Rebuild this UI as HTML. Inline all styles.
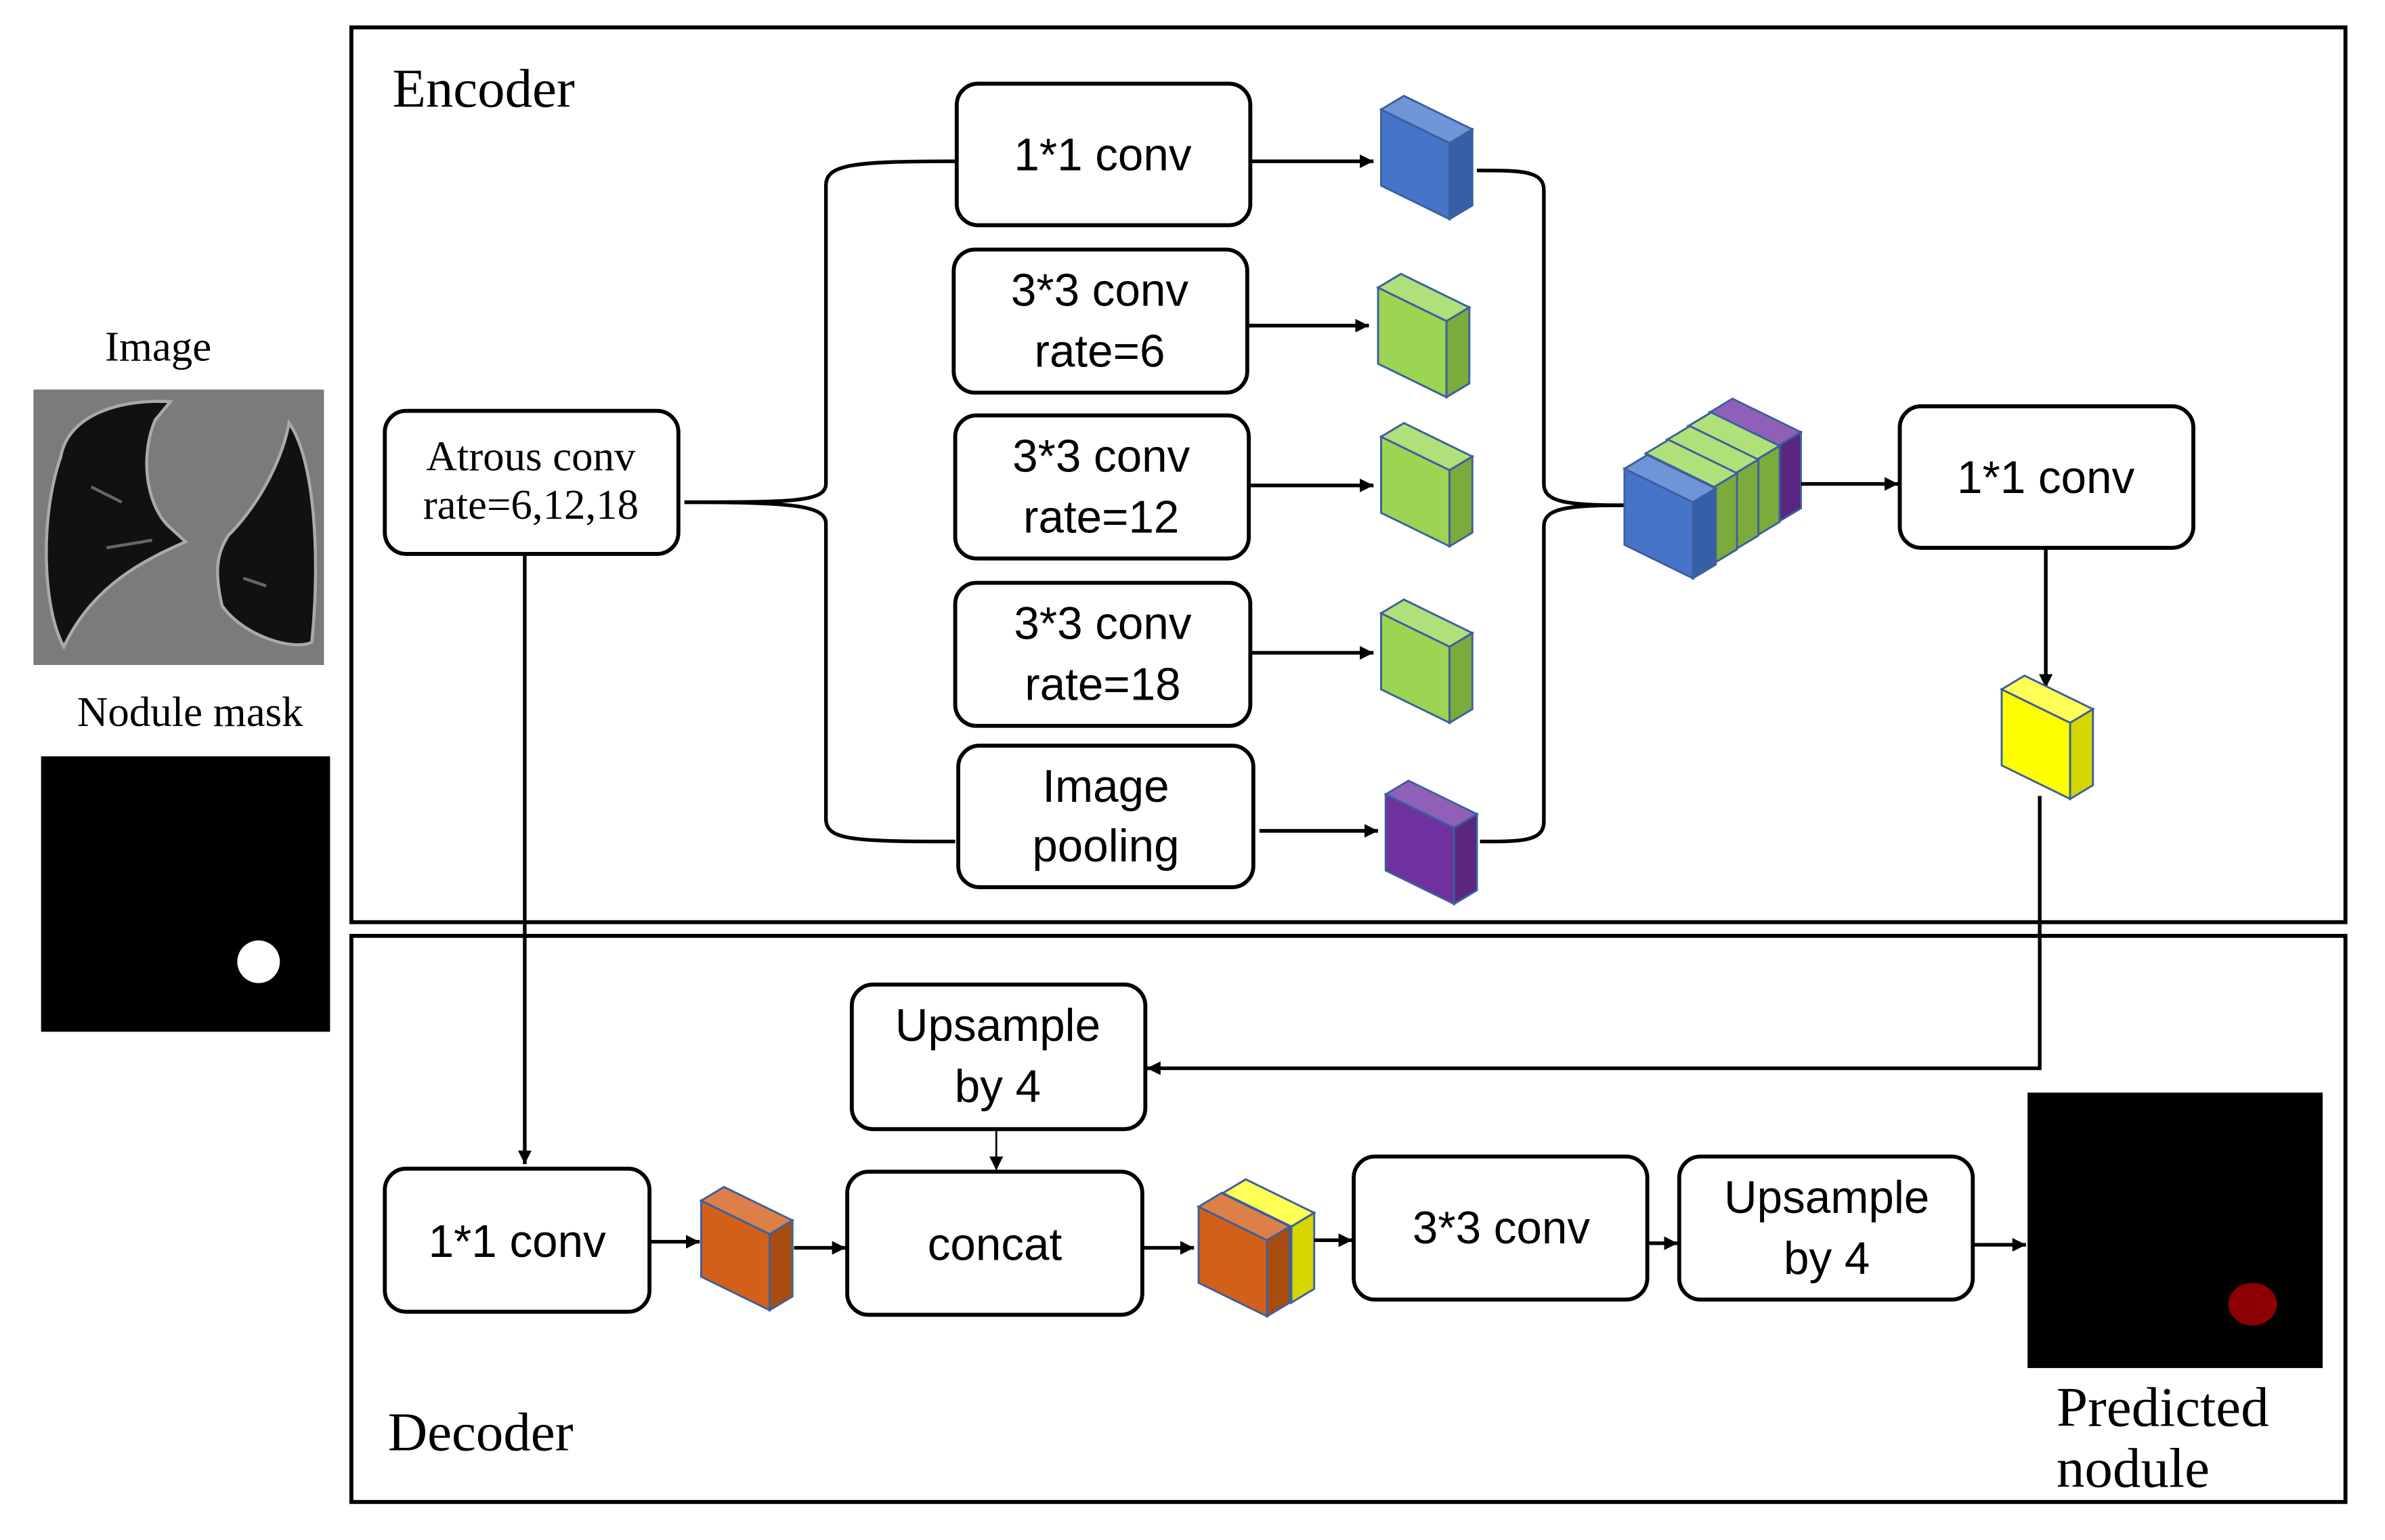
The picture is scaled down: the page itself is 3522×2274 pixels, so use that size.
<!DOCTYPE html>
<html><head><meta charset="utf-8">
<style>
html,body{margin:0;padding:0;background:#fff;}
svg{display:block;}
.bx{fill:#fff;stroke:#000;stroke-width:2.6;}
.ln{fill:none;stroke:#000;stroke-width:2.4;}
.sans{font-family:"Liberation Sans",sans-serif;font-size:30px;fill:#000;text-anchor:middle;}
.serif{font-family:"Liberation Serif",serif;fill:#000;}
.cf{fill:var(--a);stroke:#3d5f9e;stroke-width:1.3;}
.ct{fill:var(--b);stroke:#3d5f9e;stroke-width:1.3;}
.cs{fill:var(--c);stroke:#3d5f9e;stroke-width:1.3;}
.blue{--a:#4674c8;--b:#6f95d8;--c:#3560a8;}
.green{--a:#9bd552;--b:#b0e07a;--c:#7aab3c;}
.purple{--a:#7030a0;--b:#9060b8;--c:#5a2680;}
.yellow{--a:#ffff00;--b:#ffff55;--c:#d6d600;}
.orange{--a:#d2601a;--b:#dc8048;--c:#a84c10;}
</style></head>
<body>
<svg width="3522" height="2274" viewBox="0 0 1568 1012" preserveAspectRatio="none" xmlns="http://www.w3.org/2000/svg">
<defs>
<symbol id="cube" overflow="visible">
<polygon class="cf" points="0,9 45,31 45,81 0,59"/>
<polygon class="ct" points="0,9 15,0 60,22 45,31"/>
<polygon class="cs" points="45,31 60,22 60,72 45,81"/>
</symbol>
<marker id="ar" viewBox="0 0 10 10" refX="10" refY="5" markerWidth="9" markerHeight="9" orient="auto" markerUnits="userSpaceOnUse">
<path d="M0,0 L10,5 L0,10Z" fill="#000"/></marker>
</defs>
<rect width="1568" height="1012" fill="#fff"/>

<!-- left images -->
<text class="serif" x="104" y="237" font-size="28" text-anchor="middle">Image</text>
<rect x="22" y="256" width="191" height="181" fill="#7b7b7b"/>
<path d="M40,300 C45,272 80,262 112,264 L102,276 C92,300 96,330 110,345 L122,356 C100,366 62,382 42,425 C28,400 26,340 40,300Z" fill="#111" stroke="#aaa" stroke-width="2"/>
<path d="M150,352 C172,330 186,300 190,278 C206,300 211,362 205,422 C193,428 160,418 146,398 C140,372 144,362 150,352Z" fill="#111" stroke="#aaa" stroke-width="2"/>
<path d="M70,360 L100,355 M60,320 L80,330 M160,380 L175,385" stroke="#666" stroke-width="2"/>
<text class="serif" x="125" y="477" font-size="28" text-anchor="middle">Nodule mask</text>
<rect x="27" y="497" width="190" height="181" fill="#000"/>
<circle cx="170" cy="632" r="14" fill="#fff"/>

<!-- frames -->
<rect x="231" y="18" width="1311" height="588" fill="none" stroke="#000" stroke-width="2.6"/>
<rect x="231" y="615" width="1311" height="372" fill="none" stroke="#000" stroke-width="2.6"/>
<text class="serif" x="258" y="70" font-size="36">Encoder</text>
<text class="serif" x="255" y="953" font-size="36">Decoder</text>

<!-- Encoder boxes -->
<rect class="bx" x="253" y="270" width="193" height="94" rx="14"/>
<text class="serif" x="349" y="309" font-size="28" text-anchor="middle">Atrous conv</text>
<text class="serif" x="349" y="341" font-size="28" text-anchor="middle">rate=6,12,18</text>

<rect class="bx" x="629" y="55" width="193" height="93" rx="14"/>
<text class="sans" x="725" y="112">1*1 conv</text>
<rect class="bx" x="627" y="164" width="193" height="94" rx="14"/>
<text class="sans" x="723" y="201">3*3 conv</text><text class="sans" x="723" y="241">rate=6</text>
<rect class="bx" x="628" y="273" width="193" height="94" rx="14"/>
<text class="sans" x="724" y="310">3*3 conv</text><text class="sans" x="724" y="350">rate=12</text>
<rect class="bx" x="628" y="383" width="194" height="94" rx="14"/>
<text class="sans" x="725" y="420">3*3 conv</text><text class="sans" x="725" y="460">rate=18</text>
<rect class="bx" x="630" y="490" width="194" height="93" rx="14"/>
<text class="sans" x="727" y="527">Image</text><text class="sans" x="727" y="566">pooling</text>

<!-- left bracket -->
<path class="ln" d="M450,330 C520,330 543,330 543,318 L543,122 C543,108 560,106 628,106"/>
<path class="ln" d="M450,330 C520,330 543,332 543,344 L543,538 C543,552 560,553 628,553"/>

<!-- arrows to cubes -->
<path class="ln" d="M822,106 L903,106" marker-end="url(#ar)"/>
<path class="ln" d="M820,214 L900,214" marker-end="url(#ar)"/>
<path class="ln" d="M821,319 L903,319" marker-end="url(#ar)"/>
<path class="ln" d="M822,429 L903,429" marker-end="url(#ar)"/>
<path class="ln" d="M828,546 L906,546" marker-end="url(#ar)"/>

<!-- cubes -->
<use href="#cube" x="908" y="63" class="blue"/>
<use href="#cube" x="906" y="180" class="green"/>
<use href="#cube" x="908" y="278" class="green"/>
<use href="#cube" x="908" y="394" class="green"/>
<use href="#cube" x="911" y="513" class="purple"/>

<!-- right bracket -->
<path class="ln" d="M971,112 C1000,112 1015,112 1015,125 L1015,318 C1015,330 1030,332 1068,332"/>
<path class="ln" d="M973,553 C1000,553 1015,553 1015,540 L1015,346 C1015,334 1030,332 1068,332"/>

<!-- stack -->
<use href="#cube" x="1124" y="262" class="purple"/>
<use href="#cube" x="1110" y="271" class="green"/>
<use href="#cube" x="1096" y="280" class="green"/>
<use href="#cube" x="1082" y="289" class="green"/>
<use href="#cube" x="1068" y="299" class="blue"/>

<path class="ln" d="M1184,318 L1248,318" marker-end="url(#ar)"/>
<rect class="bx" x="1249" y="267" width="193" height="93" rx="14"/>
<text class="sans" x="1345" y="324">1*1 conv</text>
<path class="ln" d="M1345,360 L1345,452" marker-end="url(#ar)"/>
<use href="#cube" x="1316" y="444" class="yellow"/>

<!-- yellow to upsample -->
<path class="ln" d="M1341,523 L1341,702 L754,702" marker-end="url(#ar)"/>

<!-- Decoder -->
<rect class="bx" x="560" y="647" width="193" height="95" rx="14"/>
<text class="sans" x="656" y="684">Upsample</text><text class="sans" x="656" y="724">by 4</text>
<path d="M655,742 L655,769" stroke="#000" stroke-width="1.2" marker-end="url(#ar)"/>

<path class="ln" d="M345,364 L345,765" marker-end="url(#ar)"/>
<rect class="bx" x="253" y="768" width="174" height="94" rx="14"/>
<text class="sans" x="340" y="826">1*1 conv</text>
<path class="ln" d="M427,816 L460,816" marker-end="url(#ar)"/>
<use href="#cube" x="461" y="780" class="orange"/>
<path class="ln" d="M522,820 L556,820" marker-end="url(#ar)"/>
<rect class="bx" x="557" y="770" width="194" height="94" rx="14"/>
<text class="sans" x="654" y="828">concat</text>
<path class="ln" d="M751,820 L785,820" marker-end="url(#ar)"/>
<use href="#cube" x="804" y="775" class="yellow"/>
<use href="#cube" x="788" y="784" class="orange"/>
<path class="ln" d="M864,815 L889,815" marker-end="url(#ar)"/>
<rect class="bx" x="890" y="760" width="193" height="94" rx="14"/>
<text class="sans" x="987" y="817">3*3 conv</text>
<path class="ln" d="M1083,817 L1103,817" marker-end="url(#ar)"/>
<rect class="bx" x="1104" y="760" width="193" height="94" rx="14"/>
<text class="sans" x="1201" y="797">Upsample</text><text class="sans" x="1201" y="837">by 4</text>
<path class="ln" d="M1297,818 L1332,818" marker-end="url(#ar)"/>

<rect x="1333" y="718" width="194" height="181" fill="#000"/>
<ellipse cx="1481" cy="857" rx="16" ry="14" fill="#8b0000"/>
<text class="serif" x="1352" y="937" font-size="37">Predicted</text>
<text class="serif" x="1352" y="977" font-size="37">nodule</text>
</svg>
</body></html>
